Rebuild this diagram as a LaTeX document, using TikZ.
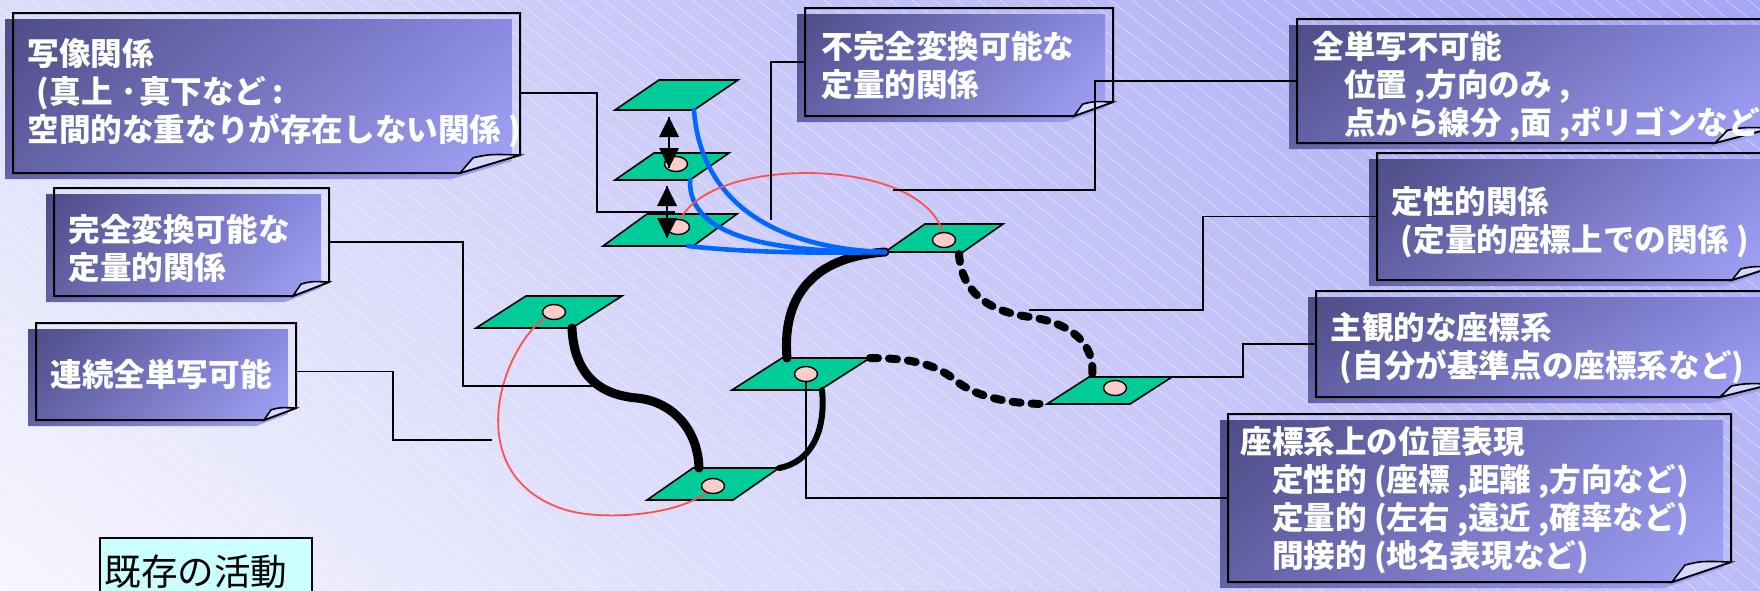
\documentclass[tikz,border=0pt]{standalone}
\usepackage{fontspec}
\newfontfamily\jpfont{Noto Sans CJK JP}
\usetikzlibrary{shapes.geometric,arrows.meta,calc,fit,shadings}
\definecolor{bgUL}{HTML}{DCDCFA}
\definecolor{bgUR}{HTML}{A6A6F6}
\definecolor{bgLL}{HTML}{F7F7FF}
\definecolor{bgLR}{HTML}{BCBCF7}
\definecolor{boxUL}{HTML}{4C4C86}
\definecolor{boxLL}{HTML}{6262A6}
\definecolor{boxUR}{HTML}{8A8AE2}
\definecolor{boxLR}{HTML}{A4A4F8}
\definecolor{planegreen}{HTML}{00CC99}
\definecolor{dotpink}{HTML}{FFCCCC}
\definecolor{bluecurve}{HTML}{0066FF}
\definecolor{redcurve}{HTML}{FF5050}
\definecolor{curlfill}{HTML}{D8D8FF}
\definecolor{kizonfill}{HTML}{CCFFFF}
\tikzset{
 conn/.style={black, line width=0.7pt},
 boxline/.style={black, line width=1pt, line join=miter},
 curl/.style={black, line width=0.8pt, fill=curlfill},
 boxtxt/.style={white, font=\jpfont\bfseries\fontsize{15.8}{19}\selectfont, align=left, inner sep=0pt, anchor=north west},
 planeshape/.style={fill=planegreen, draw=black, line width=0.8pt, line join=miter},
 dot/.style={ellipse, draw=black, line width=0.7pt, fill=dotpink, minimum width=11.5pt, minimum height=7.5pt, inner sep=0pt},
 bluec/.style={bluecurve, line width=2.3pt, line cap=round},
 thickc/.style={black, line width=4.5pt, line cap=round},
 medc/.style={black, line width=3pt, line cap=round},
 dashc/.style={black, line width=4pt, line cap=round, dash pattern=on 4pt off 5.5pt},
 redc/.style={redcurve, line width=0.9pt},
 shaft/.style={black, line width=0.8pt},
 tipfill/.style={fill=black},
}
\newcommand\drawplane[6]{%
  \coordinate (#1-bl) at (#2,#3);
  \coordinate (#1-br) at ($(#2,#3)+(#4,0)$);
  \coordinate (#1-tr) at ($(#2,#3)+(#4+#6,-#5)$);
  \coordinate (#1-tl) at ($(#2,#3)+(#6,-#5)$);
  \draw[planeshape] (#1-bl) -- (#1-br) -- (#1-tr) -- (#1-tl) -- cycle;
}
\newcommand\calloutbox[7]{%
  \shade[upper left=boxUL, lower left=boxLL, upper right=boxUR, lower right=boxLR]
    (#2-8,#3+6) -- (#4-8,#3+6) -- (#4-8,#5+6-#7) -- (#4-8-#6,#5+6) -- (#2-8,#5+6) -- cycle;
  \node[fit={(#2,#3) (#4,#5)}, inner sep=0pt, outer sep=0pt] (#1) {};
  \draw[boxline] (#1.north west) -- (#1.north east) -- ($(#1.south east)+(0,-#7)$) -- ($(#1.south east)+(-#6,0)$) -- (#1.south west) -- cycle;
  \draw[curl] ($(#1.south east)+(-#6,0)$) -- ($(#1.south east)+(-0.78*#6,-0.85*#7)$) .. controls ($(#1.south east)+(-0.5*#6,-1.05*#7)$) .. ($(#1.south east)+(0,-#7)$) -- cycle;
}
\newcommand\dblarrow[2]{%
  \draw[shaft] (#1) -- (#2);
  \fill[tipfill] (#1) -- ++(-10,20) -- ++(20,0) -- cycle;
  \fill[tipfill] (#2) -- ++(-10,-20) -- ++(20,0) -- cycle;
}
\begin{document}
\begin{tikzpicture}[x=0.5pt,y=-0.5pt]
\useasboundingbox (0,0) rectangle (1760,590);
\clip (0,0) rectangle (1760,590);
\shade[upper left=bgUL, upper right=bgUR, lower left=bgLL, lower right=bgLR] (0,0) rectangle (1760,590);
\foreach \i in {-760,-738,...,1760} \draw[white, opacity=0.45, line width=0.35pt] (\i,0) -- ++(740,590);

% planes
\drawplane{P1}{615}{110}{79}{30}{44}
\drawplane{P2}{615}{180}{75}{27}{39}
\drawplane{P3}{603}{246}{90}{32}{44}
\drawplane{P4}{885}{252}{78}{28}{40}
\drawplane{P5}{1047}{404}{83}{27}{42}
\drawplane{P6}{732}{390}{88}{32}{50}
\drawplane{P7}{647}{500}{86}{32}{46}
\drawplane{P8}{476}{328}{96}{32}{50}

% dot centres
\coordinate (c2) at (676,164);
\coordinate (c3) at (678,227);
\coordinate (c4) at (944,240);
\coordinate (c5) at (1115,388);
\coordinate (c6) at (806,374);
\coordinate (c7) at (713,486);
\coordinate (c8) at (554,312);

% black curves
\draw[thickc] (P4-bl) .. controls (800,258) and (783,310) .. ($(P6-tl)+(5,0)$);
\draw[thickc] (P8-br) .. controls (574,375) and (600,395) .. (637,398) .. controls (675,402) and (698,432) .. ($(P7-tl)+(6,0)$);
\draw[medc] (P7-tr) .. controls (812,462) and (826,430) .. ($(P6-br)+(2,0)$);
\draw[dashc] ($(P4-br)+(-4,2)$) .. controls (962,300) and (1000,313) .. (1030,317) .. controls (1072,323) and (1096,345) .. ($(P5-tl)+(3,0)$);
\draw[dashc] (P6-tr) .. controls (920,358) and (940,368) .. (955,380) .. controls (975,397) and (1010,404) .. (P5-bl);
% blue curves
\draw[bluec] (P1-br) .. controls (700,195) and (765,248) .. (P4-bl);
\draw[bluec] (P2-br) .. controls (688,240) and (780,252) .. (P4-bl);
\draw[bluec] ($(P3-br)+(-5,0)$) .. controls (730,251) and (800,254) .. (P4-bl);
% red curves
\draw[redc] (c3) .. controls (695,153) and (935,153) .. (c4);
\draw[redc] (c8) .. controls (505,335) and (455,470) .. (560,508) .. controls (600,523) and (690,515) .. (c7);

% dots
\node[dot] (e2) at (c2) {};
\node[dot] (e3) at (c3) {};
\node[dot] (e4) at (c4) {};
\node[dot] (e5) at (c5) {};
\node[dot] (e6) at (c6) {};
\node[dot] (e7) at (c7) {};
\node[dot] (e8) at (c8) {};

% vertical double arrows
\coordinate (a1t) at (669,117);
\coordinate (a1b) at (669,168);
\coordinate (a2t) at (667,186);
\coordinate (a2b) at (667,238);
\dblarrow{a1t}{a1b}
\dblarrow{a2t}{a2b}

% callout boxes
\calloutbox{A}{13}{13}{520}{173}{60}{18}
\calloutbox{B}{805}{8}{1113}{116}{39}{14}
\calloutbox{C}{1297}{19}{1772}{143}{57}{15}
\calloutbox{E}{1377}{153}{1772}{280}{40}{13}
\calloutbox{F}{1316}{291}{1772}{397}{52}{13}
\calloutbox{D}{1228}{414}{1731}{582}{59}{20}
\calloutbox{G}{54}{188}{329}{296}{36}{14}
\calloutbox{H}{36}{323}{296}{420}{32}{12}

\node[boxtxt] (At) at (27,38) {写像関係\\\hspace*{0.3em}(真上 ·真下など :\\空間的な重なりが存在しない関係 )};
\node[boxtxt] (Bt) at (821,31) {不完全変換可能な\\定量的関係};
\node[boxtxt] (Ct) at (1312,31) {全単写不可能\\\hspace*{1em}位置 ,方向のみ ,\\\hspace*{1em}点から線分 ,面 ,ポリゴンなど};
\node[boxtxt] (Et) at (1391,186) {定性的関係\\\hspace*{0.3em}(定量的座標上での関係 )};
\node[boxtxt] (Ft) at (1330,312) {主観的な座標系\\\hspace*{0.3em}(自分が基準点の座標系など)};
\node[boxtxt] (Dt) at (1240,426) {座標系上の位置表現\\\hspace*{1em}定性的 (座標 ,距離 ,方向など)\\\hspace*{1em}定量的 (左右 ,遠近 ,確率など)\\\hspace*{1em}間接的 (地名表現など)};
\node[boxtxt] (Gt) at (68,214) {完全変換可能な\\定量的関係};
\node[boxtxt] (Ht) at (50,359) {連続全単写可能};

% connectors
\coordinate (cA) at (675,212);
\coordinate (cB) at (771,220);
\coordinate (cC) at (893,190);
\coordinate (cE) at (1029,310);
\coordinate (cG) at (596,386);
\coordinate (cH) at (492,440);
\draw[conn] (A.east) -- ++(77,0) |- (cA);
\draw[conn] (B.west) -| (cB);
\draw[conn] (C.west) -- ++(-202,0) |- (cC);
\draw[conn] (E.west) -- ++(-174,0) |- (cE);
\draw[conn] (F.west) -- ++(-73,0) |- (P5-tr);
\draw[conn] (e6.south) |- (D.west);
\draw[conn] (G.east) -- ++(134,0) |- (cG);
\draw[conn] (H.east) -- ++(97,0) |- (cH);

% existing activity box
\node[draw=black, line width=0.6pt, fill=kizonfill, inner sep=0pt, outer sep=0pt, minimum width=106pt, minimum height=40pt, anchor=north west] (K) at (100,538) {};
\node[font=\jpfont\fontsize{18.3}{22}\selectfont, anchor=west, inner sep=0pt] (Kt) at (104,572) {既存の活動};
\end{tikzpicture}
\end{document}
